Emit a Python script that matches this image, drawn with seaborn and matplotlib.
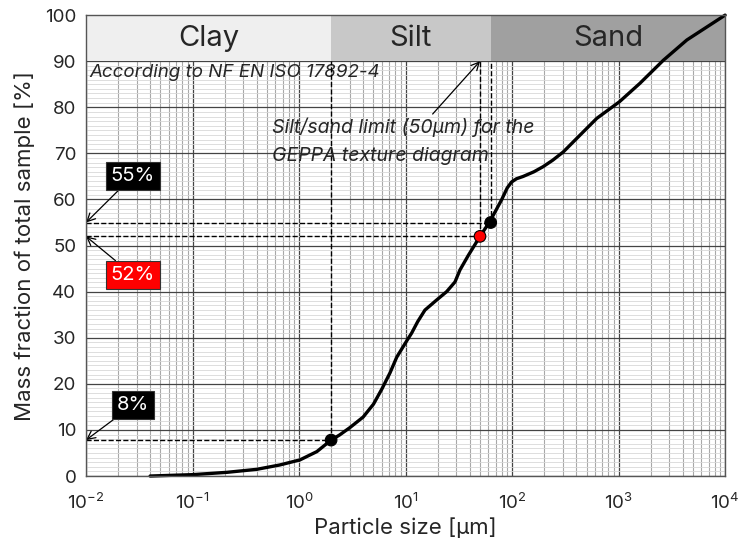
import numpy as np
import pandas as pd
import matplotlib
matplotlib.use("Agg")
import matplotlib.pyplot as plt
import seaborn as sns

# particle size distribution (size in µm, cumulative %)
sizes = [0.04, 0.1, 0.21, 0.40, 0.66, 1.02, 1.47, 2.0, 2.4, 3.0, 4.0, 5.0, 6.0,
         7.15, 8.27, 10.3, 11.4, 13.0, 15.2, 19.6, 24.3, 29.1, 32.4, 38.9, 50, 61, 70,
         80, 90, 99, 110, 127, 160, 195, 240, 302, 436, 624, 1018, 1585, 2630, 4370, 10000]
fractions = [0.0, 0.3, 0.8, 1.45, 2.4, 3.5, 5.3, 7.8, 8.9, 10.5, 12.8, 15.6, 18.9,
             22.4, 25.8, 29.4, 31.0, 33.5, 36.0, 38.2, 40.0, 42.1, 44.7, 47.9, 52.0, 55.0, 57.5,
             60.0, 62.5, 63.8, 64.5, 65.0, 66.0, 67.1, 68.5, 70.3, 74.0, 77.6, 81.2, 85.2,
             90.2, 94.6, 100.0]

# texture classes (ISO 17892-4)
class_names = ["Clay", "Silt", "Sand"]
class_bounds = [0.01, 2, 63, 10000]
class_colors = ["#efefef", "#c8c8c8", "#a0a0a0"]

# highlighted points: size, fraction, label, colour
mark_sizes = [2, 50, 63]
mark_values = [7.8, 52, 55]
mark_labels = ["8%", "52%", "55%"]
mark_colors = ["black", "red", "black"]
label_y = [15.4, 43.6, 65.1]

sns.set_style("white")
plt.rcParams['font.family'] = ['Inter', 'DejaVu Sans']
plt.rcParams['mathtext.fontset'] = 'custom'
plt.rcParams['mathtext.rm'] = 'Inter'

fig = plt.figure(figsize=(7.44, 5.5), dpi=100)
ax = fig.add_axes([0.1156, 0.1345, 0.859, 0.838])

df = pd.DataFrame({"size": sizes, "fraction": fractions})

ax.set_xscale("log")
ax.set_xlim(0.01, 10000)
ax.set_ylim(0, 100)

# grid
ax.set_yticks(np.arange(0, 101, 10))
ax.set_yticks(np.arange(0, 101, 1), minor=True)
ax.xaxis.set_minor_locator(matplotlib.ticker.LogLocator(base=10, subs=np.arange(2, 10)))
ax.xaxis.set_minor_formatter(matplotlib.ticker.NullFormatter())
ax.grid(which="major", axis="both", color="#444444", linewidth=0.9, zorder=0)
ax.grid(which="minor", axis="x", color="#a8a8a8", linewidth=0.8, zorder=0)
ax.grid(which="minor", axis="y", color="#d8d8d8", linewidth=0.6, zorder=0)
ax.set_axisbelow(True)

# class band at the top
for i, name in enumerate(class_names):
    lo, hi = class_bounds[i], class_bounds[i + 1]
    ax.fill_between([lo, hi], 90, 100, color=class_colors[i], zorder=2, linewidth=0)
    ax.text(np.sqrt(lo * hi), 95, name, ha="center", va="center", fontsize=21, zorder=3)

ax.text(0.0107, 87.6, "According to NF EN ISO 17892-4", fontsize=13.5, style="italic",
        ha="left", va="center", zorder=3)

# dashed guide lines
for xs, ys in zip(mark_sizes, mark_values):
    ax.plot([0.01, xs], [ys, ys], ls="--", color="black", lw=1.0, zorder=3)
    ax.plot([xs, xs], [ys, 90], ls="--", color="black", lw=1.0, zorder=3)

sns.lineplot(data=df, x="size", y="fraction", ax=ax, color="black", lw=2.4, zorder=4,
             clip_on=False)
sns.scatterplot(x=mark_sizes, y=mark_values, ax=ax, color=mark_colors, s=70,
                edgecolor="black", linewidth=0.8, zorder=5)

# value labels with arrows to the y axis
for yv, lab, col, ly in zip(mark_values, mark_labels, mark_colors, label_y):
    ax.annotate(lab, xy=(0.01, yv), xytext=(0.0276, ly), fontsize=14.5, color="white",
                ha="center", va="center", zorder=6,
                bbox=dict(boxstyle="square,pad=0.25", fc=col, ec="#333333", lw=0.8),
                arrowprops=dict(arrowstyle="->", color="black", lw=0.9, shrinkA=0, shrinkB=0))

ax.annotate("Silt/sand limit (50µm) for the\nGEPPA texture diagram", xy=(50, 90),
            xytext=(0.56, 72.7), fontsize=14, style="italic", ha="left", va="center",
            linespacing=1.7, zorder=6,
            arrowprops=dict(arrowstyle="->", color="black", lw=0.9, shrinkA=0, shrinkB=0,
                            relpos=(0.6, 1.0)))

ax.set_xticks([0.01, 0.1, 1, 10, 100, 1000, 10000])
ax.set_xticklabels([r"$10^{-2}$", r"$10^{-1}$", r"$10^{0}$", r"$10^{1}$",
                    r"$10^{2}$", r"$10^{3}$", r"$10^{4}$"])
ax.tick_params(axis="both", which="both", length=0, labelsize=13.5)
ax.tick_params(axis="x", pad=12)
ax.tick_params(axis="y", pad=7)
ax.set_xlabel("Particle size [µm]", fontsize=16, labelpad=3)
ax.set_ylabel("Mass fraction of total sample [%]", fontsize=16, labelpad=7)

for sp in ax.spines.values():
    sp.set_color("#555555")
    sp.set_linewidth(1.0)
    sp.set_zorder(7)

fig.savefig("out.png", dpi=100)
